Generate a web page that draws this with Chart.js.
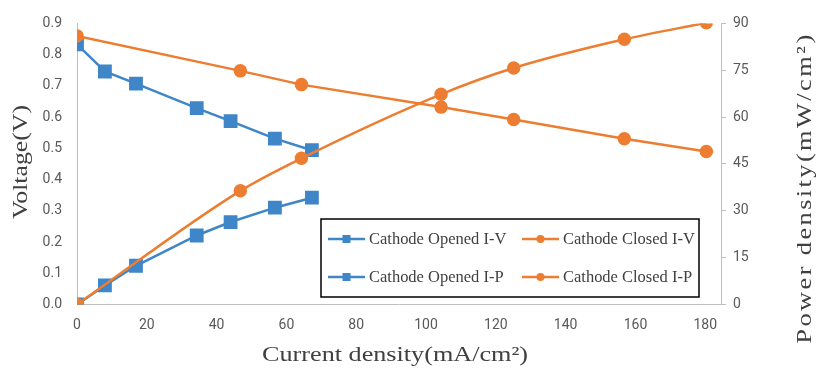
<!DOCTYPE html>
<html>
<head>
<meta charset="utf-8">
<script src="https://cdn.jsdelivr.net/npm/chart.js@4"></script>
<style>
  html, body { margin: 0; padding: 0; background: #fff; }
  #wrap { width: 821px; height: 376px; position: relative; }
</style>
</head>
<body>
<div id="wrap"><canvas id="chart" width="821" height="376"></canvas></div>
<script>
// values
const openedCurrent = [0, 8.0, 16.9, 34.3, 44.0, 56.7, 67.3];
const openedVoltage = [0.833, 0.746, 0.707, 0.629, 0.587, 0.531, 0.494];
const openedPower = [0, 6.1, 12.4, 22.1, 26.4, 31.0, 34.2];

const closedCurrent = [0, 46.8, 64.3, 104.3, 125.1, 156.8, 180.3];
const closedVoltage = [0.86, 0.748, 0.704, 0.632, 0.592, 0.531, 0.490];
const closedPower = [0, 36.4, 46.8, 67.3, 75.7, 84.9, 90.2];

const seriesNames = ['Cathode Opened I-V', 'Cathode Closed I-V', 'Cathode Opened I-P', 'Cathode Closed I-P'];
const xTitle = 'Current density(mA/cm²)';
const yTitle = 'Voltage(V)';
const y2Title = 'Power density(mW/cm²)';

const BLUE = '#3f86c8';
const ORANGE = '#ed7d31';
const AXIS = '#bfbfbf';
const TICK_TEXT = '#595959';
const SERIF = "'Liberation Serif', 'DejaVu Serif', serif";
const SANS = "'Liberation Sans Narrow', 'Roboto', sans-serif";

function pts(xs, ys) {
  return xs.map((x, i) => ({ x: x, y: ys[i] }));
}

// draw a title stretched along its own direction (the original font is wider)
function drawTitle(ctx, text, x, y, angle, stretch, spacing) {
  ctx.save();
  ctx.fillStyle = '#404040';
  ctx.font = '22px ' + SERIF;
  ctx.textAlign = 'center';
  ctx.textBaseline = 'middle';
  if (spacing) ctx.letterSpacing = spacing + 'px';
  ctx.translate(x, y);
  ctx.rotate(angle);
  ctx.scale(stretch, 1);
  ctx.fillText(text, 0, 0);
  ctx.restore();
}

// axis titles (the right one reads bottom-to-top like the left one)
const titlesPlugin = {
  id: 'titles',
  afterDraw(chart) {
    const ctx = chart.ctx;
    drawTitle(ctx, xTitle, 395, 355, 0, 1.19);
    drawTitle(ctx, yTitle, 21, 162, -Math.PI / 2, 1.17);
    drawTitle(ctx, y2Title, 805, 188, -Math.PI / 2, 1.2, 2);
  }
};

// boxed legend inside the plot, two rows by two columns
const legendPlugin = {
  id: 'boxLegend',
  afterDraw(chart) {
    const ctx = chart.ctx;
    const box = { left: 321, top: 219, right: 699, bottom: 297 };
    ctx.save();
    ctx.fillStyle = '#fff';
    ctx.fillRect(box.left, box.top, box.right - box.left, box.bottom - box.top);
    ctx.strokeStyle = '#000';
    ctx.lineWidth = 1.5;
    ctx.strokeRect(box.left, box.top, box.right - box.left, box.bottom - box.top);

    const cols = [328, 522];
    const rows = [239, 277];
    chart.data.datasets.forEach((ds, i) => {
      const x = cols[i % 2];
      const y = rows[Math.floor(i / 2)];
      ctx.strokeStyle = ds.borderColor;
      ctx.lineWidth = 2.5;
      ctx.beginPath();
      ctx.moveTo(x, y);
      ctx.lineTo(x + 37, y);
      ctx.stroke();
      ctx.fillStyle = ds.backgroundColor;
      if (ds.pointStyle === 'rect') {
        ctx.fillRect(x + 18.5 - 4, y - 4, 8, 8);
      } else {
        ctx.beginPath();
        ctx.arc(x + 18.5, y, 4, 0, Math.PI * 2);
        ctx.fill();
      }
      ctx.fillStyle = '#404040';
      ctx.font = '16px ' + SERIF;
      ctx.textAlign = 'left';
      ctx.textBaseline = 'middle';
      ctx.save();
      ctx.translate(x + 41, y + 1);
      ctx.scale(1.03, 1);
      ctx.fillText(ds.label, 0, 0);
      ctx.restore();
    });
    ctx.restore();
  }
};

const ctx = document.getElementById('chart').getContext('2d');
const chart = new Chart(ctx, {
  type: 'line',
  data: {
    datasets: [
      {
        label: seriesNames[0],
        data: pts(openedCurrent, openedVoltage),
        yAxisID: 'y',
        borderColor: BLUE,
        backgroundColor: BLUE,
        pointStyle: 'rect',
        pointRadius: 8,
        borderWidth: 2.5,
        order: 3
      },
      {
        label: seriesNames[1],
        data: pts(closedCurrent, closedVoltage),
        yAxisID: 'y',
        borderColor: ORANGE,
        backgroundColor: ORANGE,
        pointStyle: 'circle',
        pointRadius: 5.5,
        borderWidth: 2.5,
        order: 2
      },
      {
        label: seriesNames[2],
        data: pts(openedCurrent, openedPower),
        yAxisID: 'y2',
        borderColor: BLUE,
        backgroundColor: BLUE,
        pointStyle: 'rect',
        pointRadius: 8,
        borderWidth: 2.5,
        order: 1
      },
      {
        label: seriesNames[3],
        data: pts(closedCurrent, closedPower),
        yAxisID: 'y2',
        borderColor: ORANGE,
        backgroundColor: ORANGE,
        pointStyle: 'circle',
        pointRadius: 5.5,
        borderWidth: 2.5,
        cubicInterpolationMode: 'monotone',
        order: 0
      }
    ]
  },
  options: {
    responsive: false,
    animation: false,
    layout: { padding: { top: 19, left: 0, right: 0, bottom: 0 } },
    plugins: {
      legend: { display: false },
      tooltip: { enabled: false }
    },
    scales: {
      x: {
        type: 'linear',
        min: 0,
        max: 184.5,
        afterBuildTicks(scale) {
          scale.ticks = [0, 20, 40, 60, 80, 100, 120, 140, 160, 180].map(v => ({ value: v }));
        },
        afterFit(scale) { scale.height = 71.5; },
        grid: { display: false, drawTicks: false },
        border: { display: true, color: AXIS, width: 1 },
        ticks: {
          padding: 13,
          color: TICK_TEXT,
          font: { family: SANS, size: 14 },
          maxRotation: 0
        }
      },
      y: {
        position: 'left',
        min: 0,
        max: 0.9,
        afterFit(scale) { scale.width = 77; },
        grid: { display: false, drawTicks: false },
        border: { display: true, color: AXIS, width: 1 },
        ticks: {
          stepSize: 0.1,
          padding: 15,
          color: TICK_TEXT,
          font: { family: SANS, size: 14 },
          callback: v => Number(v).toFixed(1)
        }
      },
      y2: {
        position: 'right',
        min: 0,
        max: 90,
        afterFit(scale) { scale.width = 100; },
        grid: { display: true, drawOnChartArea: false, drawTicks: true, tickLength: 5, color: AXIS },
        border: { display: true, color: AXIS, width: 1 },
        ticks: {
          stepSize: 15,
          padding: 7,
          color: TICK_TEXT,
          font: { family: SANS, size: 14 }
        }
      }
    }
  },
  plugins: [titlesPlugin, legendPlugin]
});
</script>
</body>
</html>
